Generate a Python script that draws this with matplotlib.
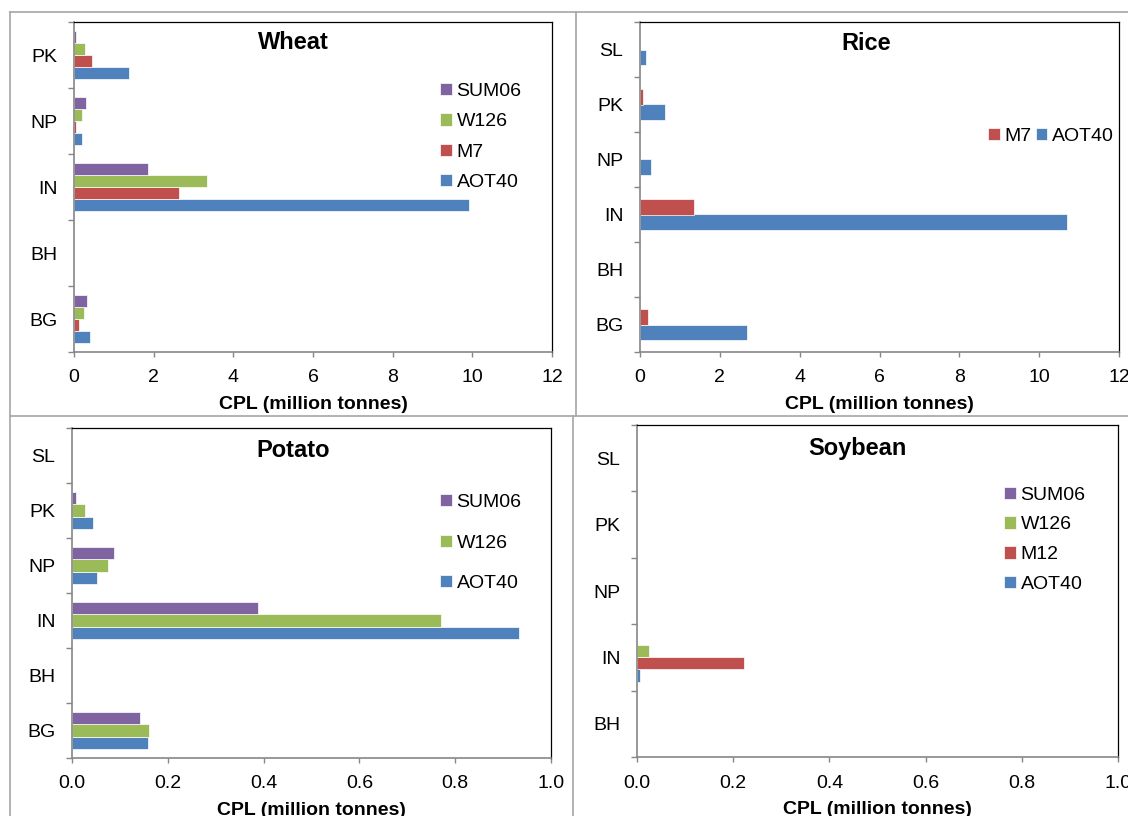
import matplotlib
matplotlib.use('Agg')
import matplotlib.pyplot as plt
from matplotlib.lines import Line2D
from matplotlib.ticker import FixedLocator, NullFormatter, FuncFormatter
import numpy as np

plt.rcParams['font.family'] = ['Liberation Sans', 'DejaVu Sans']

W, H = 1128, 816

# ---------------- data ----------------
wheat_cats = ['BG', 'BH', 'IN', 'NP', 'PK']
wheat_aot40 = [0.39, 0.0, 9.92, 0.21, 1.37]
wheat_m7 = [0.12, 0.0, 2.64, 0.04, 0.44]
wheat_w126 = [0.25, 0.0, 3.33, 0.20, 0.28]
wheat_sum06 = [0.33, 0.0, 1.85, 0.30, 0.05]

rice_cats = ['BG', 'BH', 'IN', 'NP', 'PK', 'SL']
rice_aot40 = [2.69, 0.0, 10.70, 0.27, 0.62, 0.14]
rice_m7 = [0.19, 0.0, 1.36, 0.0, 0.07, 0.0]

potato_cats = ['BG', 'BH', 'IN', 'NP', 'PK', 'SL']
potato_aot40 = [0.158, 0.0, 0.933, 0.052, 0.044, 0.0]
potato_w126 = [0.160, 0.0, 0.770, 0.075, 0.027, 0.0]
potato_sum06 = [0.143, 0.0, 0.388, 0.088, 0.008, 0.0]

soy_cats = ['BH', 'IN', 'NP', 'PK', 'SL']
soy_aot40 = [0.0, 0.007, 0.0, 0.0, 0.0]
soy_m12 = [0.0, 0.222, 0.0, 0.0, 0.0]
soy_w126 = [0.0, 0.025, 0.0, 0.0, 0.0]
soy_sum06 = [0.0, 0.0, 0.0, 0.0, 0.0]

top_xticks = [0, 2, 4, 6, 8, 10, 12]
bottom_xticks = [0.0, 0.2, 0.4, 0.6, 0.8, 1.0]

C_AOT = '#4F81BD'
C_M = '#C0504D'
C_W = '#9BBB59'
C_S = '#8064A2'

XLABEL = 'CPL (million tonnes)'
FS = 14
GRAY = '#868686'

fig = plt.figure(figsize=(W / 100, H / 100), dpi=100)
fig.patch.set_facecolor('white')


def px_rect(l, t, r, b):
    return [l / W, 1 - b / H, (r - l) / W, (b - t) / H]


def panel(rect, cats, series, xticks, fmt, title, title_xy, leg):
    ax = fig.add_axes(px_rect(*rect))
    n = len(series)
    t = 1.0 / (n + 1.5)
    base = np.arange(len(cats))
    for i, (lab, vals, col) in enumerate(series):
        ax.barh(base + (i - (n - 1) / 2) * t, vals, height=t, color=col,
                edgecolor='white', linewidth=0.5, label=lab, zorder=2)
    ax.set_xlim(xticks[0], xticks[-1])
    ax.set_ylim(-0.5, len(cats) - 0.5)
    ax.set_xticks(xticks)
    ax.xaxis.set_major_formatter(FuncFormatter(fmt))
    ax.yaxis.set_major_locator(FixedLocator(np.arange(len(cats) + 1) - 0.5))
    ax.yaxis.set_major_formatter(NullFormatter())
    ax.yaxis.set_minor_locator(FixedLocator(base))
    ax.set_yticklabels(cats, minor=True)
    ax.tick_params(axis='y', which='major', direction='out', length=4.3,
                   width=1, color=GRAY)
    ax.tick_params(axis='y', which='minor', length=0, pad=12, labelsize=FS)
    ax.tick_params(axis='x', which='major', direction='out', length=3.6,
                   width=1, color=GRAY, labelsize=FS, pad=9)
    for s in ['left', 'bottom']:
        ax.spines[s].set_color(GRAY)
        ax.spines[s].set_linewidth(1.2)
    for s in ['top', 'right']:
        ax.spines[s].set_color('black')
        ax.spines[s].set_linewidth(0.9)
    ax.set_xlabel(XLABEL, fontsize=FS, fontweight='bold', labelpad=7)
    fig.text(title_xy[0] / W, 1 - (title_xy[1] + 2) / H, title, fontsize=17,
             fontweight='bold', ha='center', va='center')
    handles, labels = ax.get_legend_handles_labels()
    ax.legend(handles[::-1], labels[::-1], loc='upper left',
              bbox_to_anchor=(leg['x'] / W, 1 - (leg['y'] + 4.5) / H),
              bbox_transform=fig.transFigure, frameon=False, fontsize=FS,
              handlelength=0.6, handleheight=0.6, handletextpad=0.25,
              borderpad=0, borderaxespad=0, labelspacing=leg['ls'],
              ncol=leg.get('ncol', 1), columnspacing=0.2)
    return ax


fmt_int = lambda v, p: '%d' % round(v)
fmt_dec = lambda v, p: '%.1f' % v

panel((74, 22, 552, 352), wheat_cats,
      [('AOT40', wheat_aot40, C_AOT), ('M7', wheat_m7, C_M),
       ('W126', wheat_w126, C_W), ('SUM06', wheat_sum06, C_S)],
      top_xticks, fmt_int, 'Wheat', (293, 40.5),
      dict(x=440, y=78.5, ls=0.68))

panel((640, 22, 1119, 352), rice_cats,
      [('AOT40', rice_aot40, C_AOT), ('M7', rice_m7, C_M)],
      top_xticks, fmt_int, 'Rice', (866, 41),
      dict(x=988, y=123, ls=0.70, ncol=2))

panel((72, 428, 551, 758), potato_cats,
      [('AOT40', potato_aot40, C_AOT), ('W126', potato_w126, C_W),
       ('SUM06', potato_sum06, C_S)],
      bottom_xticks, fmt_dec, 'Potato', (293.5, 448),
      dict(x=440, y=489.5, ls=1.21))

panel((637, 425, 1118, 757), soy_cats,
      [('AOT40', soy_aot40, C_AOT), ('M12', soy_m12, C_M),
       ('W126', soy_w126, C_W), ('SUM06', soy_sum06, C_S)],
      bottom_xticks, fmt_dec, 'Soybean', (857, 446),
      dict(x=1004, y=482, ls=0.66))

# chart-area borders
BC = '#a6a6a6'
def fline(x0, y0, x1, y1):
    fig.add_artist(Line2D([x0 / W, x1 / W], [1 - y0 / H, 1 - y1 / H],
                          transform=fig.transFigure, color=BC, lw=1.2))

fline(10, 12, W, 12)
fline(10, 416, W, 416)
fline(10, 12, 10, H)
fline(576, 12, 576, 416)
fline(573, 416, 573, H)

fig.savefig('out.png', dpi=100)
